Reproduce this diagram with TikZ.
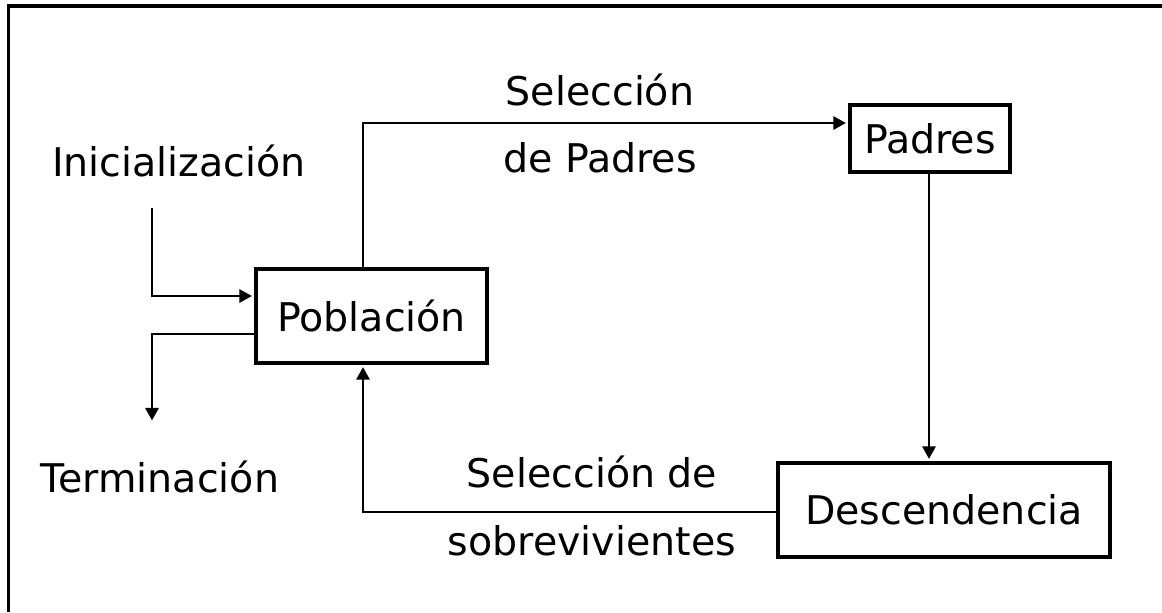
\documentclass[tikz,border=0pt]{standalone}
\usepackage{fontspec}
\setmainfont{DejaVu Sans}
\usetikzlibrary{arrows.meta,positioning}

\tikzset{
	caja/.style={draw, line width=1.8pt, inner sep=0pt, font=\fontsize{22.5}{27}\selectfont},
	etiqueta/.style={anchor=base, inner sep=0pt, font=\fontsize{22.5}{27}\selectfont},
	flecha/.style={line width=1pt, -{Triangle[length=0.25cm, width=0.27cm]}, shorten >=1.5pt}
}

\begin{document}
\begin{tikzpicture}[x=0.02cm, y=-0.02cm]
		\useasboundingbox (0,0) rectangle (1162,612);
		% marco
		\draw[line width=1.8pt] (8.5,612) -- (8.5,6) -- (1162,6);
		% cajas
		\node[caja, minimum width=4.62cm, minimum height=1.88cm](poblacion) at (371.5,316) {Población};
		\node[caja, minimum width=3.2cm, minimum height=1.34cm](padres) at (930,138.5) {Padres};
		\node[caja, minimum width=6.64cm, minimum height=1.88cm](descendencia) at (944,510) {Descendencia};
		% etiquetas
		\node[etiqueta](ini) at (179,176) {Inicialización};
		\node[etiqueta](fin) at (160,492) {Terminación};
		\node[etiqueta](selA) at (600,105) {Selección};
		\node[etiqueta](selB) at (600,172) {de Padres};
		\node[etiqueta](supA) at (592,487) {Selección de};
		\node[etiqueta](supB) at (592,555) {sobrevivientes};
		% conectores
		\coordinate (iniP) at (152,208);
		\coordinate (finP) at (152,423);
		\draw[flecha] (iniP) |- ([yshift=0.4cm]poblacion.west);
		\draw[flecha] ([yshift=-0.36cm]poblacion.west) -| (finP);
		\draw[flecha] ([xshift=-0.17cm]poblacion.north) |- (padres.west |- 0,123);
		\draw[flecha] ([xshift=-0.02cm]padres.south) -- ([xshift=-0.02cm]padres.south |- descendencia.north);
		\draw[flecha] (descendencia.west |- 0,512) -| ([xshift=-0.17cm]poblacion.south);
	\end{tikzpicture}
\end{document}
